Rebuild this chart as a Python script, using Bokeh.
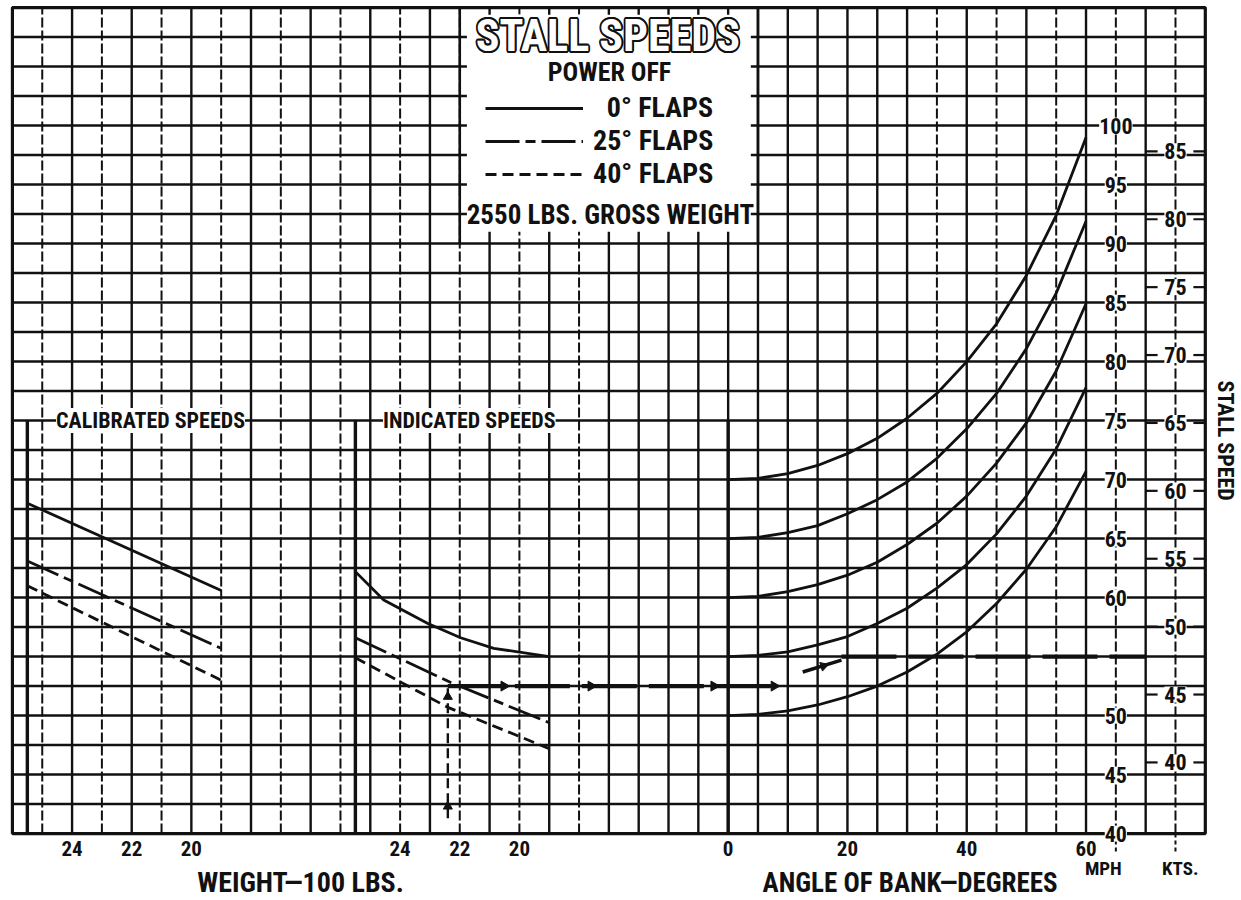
import numpy as np
from bokeh.plotting import figure
from bokeh.models import (Range1d, Label, LabelSet, Legend, LegendItem, ColumnDataSource)
from bokeh.core.properties import value
from bokeh.embed import file_html
from bokeh.resources import INLINE

INK = "#111111"
FONT = "'Roboto Condensed', Roboto"

# ---------------- data ----------------
GROSS_WEIGHT = 25.5          # 100 lbs
MPH_PER_KT = 1.15078

# calibrated speeds vs weight (100 lbs)
weight_cal = [25.5, 19.0]
cal_flaps0 = [68.0, 60.6]
cal_flaps25 = [63.1, 55.7]
cal_flaps40 = [61.0, 53.0]

# indicated speeds vs weight (100 lbs)
weight_ind0 = [25.5, 24.55, 23.07, 21.97, 20.86, 19.0]
ind_flaps0 = [62.2, 59.8, 57.8, 56.6, 55.7, 55.0]
weight_ind25 = [25.5, 22.3, 19.0]
ind_flaps25 = [56.6, 52.8, 49.4]
weight_ind40 = [25.5, 22.4, 19.0]
ind_flaps40 = [54.9, 50.7, 47.2]

# stall speed vs angle of bank (degrees)
bank_angle = [0, 5, 10, 15, 20, 25, 30, 35, 40, 45, 50, 55, 60]
bank_v70 = [70.0, 70.1, 70.5, 71.2, 72.2, 73.5, 75.2, 77.3, 80.0, 83.2, 87.3, 92.4, 99.0]
bank_v65 = [65.0, 65.1, 65.5, 66.1, 67.1, 68.3, 69.8, 71.8, 74.3, 77.3, 81.1, 85.8, 91.9]
bank_v60 = [60.0, 60.1, 60.5, 61.1, 61.9, 63.0, 64.5, 66.3, 68.6, 71.4, 74.8, 79.2, 84.9]
bank_v55 = [55.0, 55.1, 55.4, 56.0, 56.7, 57.8, 59.1, 60.8, 62.8, 65.4, 68.6, 72.6, 77.8]
bank_v50 = [50.0, 50.1, 50.4, 50.9, 51.6, 52.5, 53.7, 55.2, 57.1, 59.5, 62.4, 66.0, 70.7]

# example path (weight 2240 lbs, 25 deg flaps)
example_weight = 22.4
example_vert_mph = [41.3, 52.5]
ex_run1_bank = [-47, 9]
ex_run1_mph = [52.5, 52.5]
ex_climb_bank = [12.5, 19]
ex_climb_mph = [53.7, 54.7]
ex_run2_bank = [19, 70]
ex_run2_mph = [55.0, 55.0]

# tick labels
mph_ticks = [40, 45, 50, 60, 65, 70, 75, 80, 85, 90, 95, 100]
kts_ticks = [40, 45, 50, 55, 60, 65, 70, 75, 80, 85]
weight_ticks = [24, 22, 20]
bank_ticks = [0, 20, 40, 60]

MPH_AXIS_AT = 65   # bank-degree grid position of the MPH scale
KTS_AXIS_AT = 75   # bank-degree grid position of the KTS scale

# ---------------- figure ----------------
G_LO, G_HI = -120, 80          # chart frame, in bank-degree grid units
M_LO, M_HI = 40, 110           # chart frame, mph
X_LO, X_HI = -122.0, 85.9      # canvas extent
Y_LO, Y_HI = 34.5, 110.6

p = figure(width=1240, height=898,
           x_range=Range1d(X_LO, X_HI), y_range=Range1d(Y_LO, Y_HI),
           output_backend="svg", toolbar_location=None,
           x_axis_location=None, y_axis_location=None,
           min_border=0, min_border_left=0, min_border_right=0,
           min_border_top=0, min_border_bottom=0)
p.background_fill_color = "white"
p.border_fill_color = "white"
p.outline_line_color = None
p.xgrid.visible = False
p.ygrid.visible = False

# weight scales share the chart grid: 5 grid-degrees per 100 lbs
def weight_range(w_at_left_edge):
    return Range1d(w_at_left_edge - (X_LO - G_LO) / 5.0,
                   w_at_left_edge - (X_HI - G_LO) / 5.0)

p.extra_x_ranges = {"cal": weight_range(26.0), "ind": weight_range(37.0)}
p.extra_y_ranges = {"kts": Range1d(Y_LO / MPH_PER_KT, Y_HI / MPH_PER_KT)}

# ---------------- grid ----------------
solid_extra = [-15, -5, 5, 15, 25]
x_solid = sorted(list(range(-110, 80, 10)) + solid_extra)
x_dash = [t for t in range(-115, 80, 10) if t not in solid_extra]
y_lines = list(np.arange(42.5, 110, 2.5))

p.segment(x0=[G_LO] * len(y_lines), x1=[G_HI] * len(y_lines), y0=y_lines, y1=y_lines,
          line_color=INK, line_width=2.5)
p.segment(x0=x_solid, x1=x_solid, y0=[M_LO] * len(x_solid), y1=[M_HI] * len(x_solid),
          line_color=INK, line_width=2.4)
p.segment(x0=x_dash, x1=x_dash, y0=[M_LO] * len(x_dash), y1=[M_HI] * len(x_dash),
          line_color=INK, line_width=2.0, line_dash="10 3")
# scale lines continue a little below the frame
p.segment(x0=[MPH_AXIS_AT, KTS_AXIS_AT], x1=[MPH_AXIS_AT, KTS_AXIS_AT],
          y0=[M_LO, M_LO], y1=[38.4, 38.4], line_color=INK, line_width=2.0, line_dash="4 3")

# title box (white panel)
p.quad(left=[-43.8], right=[3.8], bottom=[91.0], top=[109.4],
       fill_color="white", line_color=None)
p.segment(x0=[-45, 5], x1=[-45, 5], y0=[90, 90], y1=[110, 110],
          line_color=INK, line_width=2.6)

# chart frame
p.quad(left=[G_LO], right=[G_HI], bottom=[M_LO], top=[M_HI],
       fill_color=None, line_color=INK, line_width=3.2)

# section walls
p.line([GROSS_WEIGHT, GROSS_WEIGHT], [40, 75], x_range_name="cal", line_color=INK, line_width=3.4)
p.line([GROSS_WEIGHT, GROSS_WEIGHT], [40, 75], x_range_name="ind", line_color=INK, line_width=3.4)
p.line([0, 0], [40, 75], line_color=INK, line_width=3.4)

DASH25 = "34 6 10 6"
DASH40 = "11 6"
LW = 2.8

r0 = p.line(weight_cal, cal_flaps0, x_range_name="cal", line_color=INK, line_width=LW)
r25 = p.line(weight_cal, cal_flaps25, x_range_name="cal", line_color=INK, line_width=LW, line_dash=DASH25)
r40 = p.line(weight_cal, cal_flaps40, x_range_name="cal", line_color=INK, line_width=LW, line_dash=DASH40)

p.line(weight_ind0, ind_flaps0, x_range_name="ind", line_color=INK, line_width=LW)
p.line(weight_ind25, ind_flaps25, x_range_name="ind", line_color=INK, line_width=LW, line_dash=DASH25)
p.line(weight_ind40, ind_flaps40, x_range_name="ind", line_color=INK, line_width=LW, line_dash=DASH40)

for series in (bank_v70, bank_v65, bank_v60, bank_v55, bank_v50):
    p.line(bank_angle, series, line_color=INK, line_width=LW)

# example path
p.line([example_weight, example_weight], example_vert_mph, x_range_name="ind",
       line_color=INK, line_width=2.4, line_dash="10 5")
p.scatter([example_weight, example_weight], [42.3, 51.6], x_range_name="ind",
          marker="triangle", size=9, color=INK)
p.line(ex_run1_bank, ex_run1_mph, line_color=INK, line_width=4.2, line_dash="55 12")
p.line(ex_climb_bank, ex_climb_mph, line_color=INK, line_width=3.6)
p.line(ex_run2_bank, ex_run2_mph, line_color=INK, line_width=4.2, line_dash="55 12")
p.scatter([-37.6, -23, -2.4, 7.7], [52.5] * 4, marker="triangle", size=10,
          angle=-np.pi / 2, color=INK)
p.scatter([16], [54.2], marker="triangle", size=9, angle=-np.pi / 2 + 0.3, color=INK)

# KTS side ticks
p.segment(x0=[70] * len(kts_ticks), x1=[72] * len(kts_ticks), y0=kts_ticks, y1=kts_ticks,
          y_range_name="kts", line_color=INK, line_width=2.2)
p.segment(x0=[78] * len(kts_ticks), x1=[80] * len(kts_ticks), y0=kts_ticks, y1=kts_ticks,
          y_range_name="kts", line_color=INK, line_width=2.2)

# ---------------- legend ----------------
legend = Legend(items=[LegendItem(label="\u20070\u00b0 FLAPS", renderers=[r0]),
                       LegendItem(label="25\u00b0 FLAPS", renderers=[r25]),
                       LegendItem(label="40\u00b0 FLAPS", renderers=[r40])],
                location=(485, 708), orientation="vertical",
                glyph_width=98, glyph_height=26, label_height=26, label_standoff=10,
                spacing=0, padding=0, margin=0,
                border_line_color=None, background_fill_alpha=0,
                label_text_font=FONT, label_text_font_style="bold",
                label_text_font_size="28px", label_text_color=INK)
p.add_layout(legend, "center")

# ---------------- tick labels ----------------
TICK_Y = 38.7
tick_style = dict(text_align="center", text_baseline="middle", text_font=value(FONT),
                  text_font_style="bold", text_font_size="21px", text_color=INK)
p.text(x=weight_ticks, y=[TICK_Y] * len(weight_ticks), text=[str(w) for w in weight_ticks],
       x_range_name="cal", **tick_style)
p.text(x=weight_ticks, y=[TICK_Y] * len(weight_ticks), text=[str(w) for w in weight_ticks],
       x_range_name="ind", **tick_style)
p.text(x=bank_ticks, y=[TICK_Y] * len(bank_ticks), text=[str(b) for b in bank_ticks],
       **tick_style)

mph_src = ColumnDataSource(dict(x=[MPH_AXIS_AT] * len(mph_ticks), y=mph_ticks,
                                t=[str(v) for v in mph_ticks]))
p.add_layout(LabelSet(x="x", y="y", text="t", source=mph_src,
                      text_align="center", text_baseline="middle",
                      background_fill_color="white",
                      text_font=value(FONT), text_font_style="bold", text_font_size="22px",
                      text_color=INK))
kts_src = ColumnDataSource(dict(x=[KTS_AXIS_AT] * len(kts_ticks), y=kts_ticks,
                                t=[str(v) for v in kts_ticks]))
p.add_layout(LabelSet(x="x", y="y", text="t", source=kts_src, y_range_name="kts",
                      text_align="center", text_baseline="middle",
                      background_fill_color="white",
                      text_font=value(FONT), text_font_style="bold", text_font_size="22px",
                      text_color=INK))

def lab(text, x, y, size, **kw):
    opts = dict(text_align="center", text_baseline="middle", text_font=FONT,
                text_font_style="bold", text_font_size=size, text_color=INK)
    opts.update(kw)
    p.add_layout(Label(x=x, y=y, text=text, **opts))

lab("CALIBRATED SPEEDS", 21.37, 75, "22px", x_range_name="cal", background_fill_color="white")
lab("INDICATED SPEEDS", 21.68, 75, "22px", x_range_name="ind", background_fill_color="white")

# hollow title: dark rim drawn by offset copies, white face on top
TITLE = "STALL SPEEDS"
TITLE_X, TITLE_Y = -20.17, 107.6
rim = 1.9
ang = np.linspace(0, 2 * np.pi, 12, endpoint=False)
rim_src = ColumnDataSource(dict(x=[TITLE_X] * len(ang), y=[TITLE_Y] * len(ang),
                                t=[TITLE] * len(ang),
                                dx=list(rim * np.cos(ang)), dy=list(rim * np.sin(ang))))
p.add_layout(LabelSet(x="x", y="y", text="t", x_offset="dx", y_offset="dy", source=rim_src,
                      text_align="center", text_baseline="middle",
                      text_font=value(FONT), text_font_style="bold", text_font_size="44px",
                      text_color=INK))
lab(TITLE, TITLE_X, TITLE_Y, "44px", text_color="white")

lab("POWER OFF", -19.9, 104.5, "26px")
lab("2550 LBS. GROSS WEIGHT", -19.75, 92.4, "27px")

lab("WEIGHT\u2014100 LBS.", -71.7, 35.85, "28px")
lab("ANGLE OF BANK\u2014DEGREES", 30.5, 35.85, "27px")
lab("MPH", 62.9, 37.0, "19px")
lab("KTS.", 75.8, 37.0, "19px")
lab("STALL SPEED", 83.35, 73.3, "22px", angle=-np.pi / 2)

open("out.html", "w").write(file_html(p, INLINE))
